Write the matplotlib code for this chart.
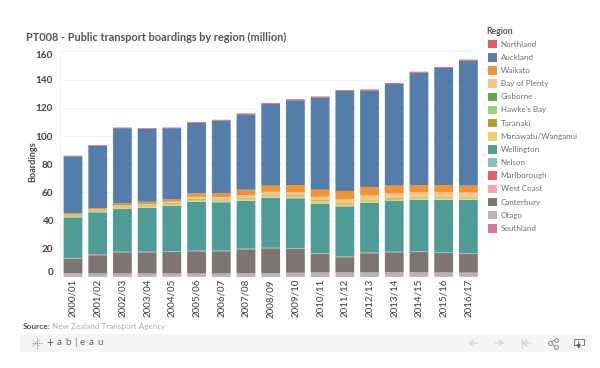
import numpy as np
import matplotlib
matplotlib.use("Agg")
import matplotlib.pyplot as plt
from matplotlib.patches import Rectangle

plt.rcParams["font.family"] = ["Lato", "DejaVu Sans"]

years = ["2000/01", "2001/02", "2002/03", "2003/04", "2004/05", "2005/06", "2006/07", "2007/08", "2008/09",
         "2009/10", "2010/11", "2011/12", "2012/13", "2013/14", "2014/15", "2015/16", "2016/17"]

# legend order, top of the stack first
regions = ["Northland", "Auckland", "Waikato", "Bay of Plenty", "Gisborne", "Hawke's Bay", "Taranaki",
           "Manawatu/Wanganui", "Wellington", "Nelson", "Marlborough", "West Coast", "Canterbury", "Otago", "Southland"]
colors = ["#e15759", "#4e79a7", "#f28e2b", "#ffbe7d", "#59a14f", "#8cd17d", "#b6992d",
          "#f1ce63", "#499894", "#86bcb6", "#e15759", "#ff9d9a", "#79706e", "#bab0ac", "#d37295"]

northland = [.4, .5, .5, .5, .5, .5, .5, .6, .6, .6, .6, .6, .6, .6, .6, .6, .6]
auckland = [40.4, 44.1, 53.3, 51.6, 50.4, 50.1, 51.6, 53.5, 58.1, 60.2, 65.5, 70.9, 68.6, 72.1, 79.8, 83.2, 88.8]
waikato = [1, 1, 1.5, 1.6, 1.7, 2.6, 2.8, 4, 4.4, 4.9, 5, 5.7, 5.8, 5.5, 5.1, 4.9, 4.8]
bay_of_plenty = [.3, .4, .7, .8, .8, 1.3, 1.5, 1.6, 1.9, 2.1, 2.3, 2.6, 3, 3, 3, 3.2, 3]
gisborne = [.1, .1, .1, .1, .1, .1, .1, .1, .1, .1, .1, .1, .1, .1, .1, .1, .1]
hawkes_bay = [.5, .5, .6, .7, .7, .8, .8, .8, .8, .8, .8, .8, .8, 1, .8, .8, .7]
taranaki = [.2, .2, .2, .2, .2, .2, .2, .3, .3, .3, .3, .3, .3, .3, .3, .3, .3]
manawatu = [.8, .8, .9, .9, 1, 1, 1, 1, 1.1, 1.2, 1.4, 1.4, 1.3, 1, 1.1, 1.1, 1.1]
wellington = [28.8, 30, 30.2, 31.1, 32.4, 34.7, 34.3, 34, 35.4, 35.3, 35.2, 35.6, 35.2, 35.9, 36.6, 37.3, 38]
nelson = [.3, .3, .3, .3, .3, .3, .3, .3, .3, .3, .3, .3, .3, .3, .3, .3, .3]
marlborough = [.15, .15, .15, .15, .15, .15, .15, .15, .15, .15, .15, .15, .15, .15, .15, .15, .15]
west_coast = [.05, .05, .05, .05, .05, .05, .05, .05, .05, .05, .05, .05, .05, .05, .05, .05, .05]
canterbury = [10.3, 12.9, 15, 15, 15.2, 15.7, 15.7, 17, 17.5, 17, 13, 10.8, 13.5, 14.1, 14.4, 13.8, 13.2]
otago = [2.3, 2.1, 2.1, 2.1, 2.1, 2.1, 2.1, 2.2, 2.4, 2.6, 2.9, 2.8, 2.9, 3, 2.9, 2.8, 2.7]
southland = [.4, .4, .4, .4, .4, .4, .4, .4, .4, .4, .4, .4, .4, .4, .4, .4, .4]

series = [northland, auckland, waikato, bay_of_plenty, gisborne, hawkes_bay, taranaki, manawatu,
          wellington, nelson, marlborough, west_coast, canterbury, otago, southland]
yticks = [0, 20, 40, 60, 80, 100, 120, 140, 160]

W, H = 600, 368
fig = plt.figure(figsize=(W / 100, H / 100), dpi=100)

# overlay in pixel coordinates for the title, legend and toolbar
over = fig.add_axes([0, 0, 1, 1])
over.set_xlim(0, W)
over.set_ylim(H, 0)
over.axis("off")

ax = fig.add_axes([60 / W, 1 - 277 / H, 420 / W, 226.3 / H])
ax.set_facecolor("none")

# stack from the bottom up, legend order is top first
x = np.arange(len(years))
bottom = np.zeros(len(years))
for vals, col in zip(series[::-1], colors[::-1]):
    bars = ax.bar(x, vals, bottom=bottom, width=0.76, color=col, linewidth=0, alpha=0.97, zorder=3)
    for b in bars:
        b.set_snap(False)
    bottom += np.array(vals)

ax.set_xlim(-0.526, 16.47)
ax.set_ylim(0, 160.5)
ax.set_yticks(yticks)
ax.set_xticks(x)
ax.set_xticklabels(years, rotation=90, fontsize=7, color="#444444", fontweight="medium")
ax.tick_params(axis="x", length=0, pad=1.5)
ax.tick_params(axis="y", length=0, pad=5, labelsize=7.2, labelcolor="#444444")
for lab in ax.get_yticklabels():
    lab.set_fontweight("bold")
ax.grid(axis="y", color="#f4f4f4", linewidth=0.7, zorder=0)
for s in ax.spines.values():
    s.set_visible(False)
ax.spines["left"].set_visible(True)
ax.spines["left"].set_color("#f0f0f0")
ax.spines["left"].set_linewidth(0.7)

# first and last labels are pushed inside the pane
labels = ax.get_yticklabels()
labels[0].set_va("bottom")
labels[-1].set_va("top")

over.text(33, 162, "Boardings", rotation=90, ha="center", va="center", fontsize=6.6, fontweight="bold", color="#444444")
over.text(26, 37, "PT008 - Public transport boardings by region (million)", ha="left", va="center",
          fontsize=7.9, fontweight="bold", color="#555555")

# legend
over.text(486.5, 31.5, "Region", ha="left", va="center", fontsize=6.2, fontweight="bold", color="#555555")
for i, (name, col) in enumerate(zip(regions, colors)):
    y = 44.2 + 13.15 * i
    over.add_patch(Rectangle((488.3, y - 4.3), 8.6, 8.6, facecolor=col, edgecolor="none", alpha=0.95))
    over.text(500.7, y, name, ha="left", va="center", fontsize=5.8, color="#707070")

# source line
over.text(22.5, 326.8, "Source:", ha="left", va="center", fontsize=6.0, fontweight="bold", color="#555555")
over.text(52.5, 326.8, "New Zealand Transport Agency", ha="left", va="center", fontsize=5.9, color="#b0b0b0")

# toolbar
over.add_patch(Rectangle((20, 334.3), 571.7, 17.4, facecolor="#f5f5f5", edgecolor="none"))
over.plot([36.5, 36.5], [338, 348], color="#808080", lw=0.8, ls=(0, (1, 1)))
over.plot([31.5, 41.5], [343, 343], color="#808080", lw=0.8, ls=(0, (1, 1)))
over.plot([33, 40], [339.5, 346.5], color="#a0a0a0", lw=0.7, ls=(0, (1, 1)))
over.plot([33, 40], [346.5, 339.5], color="#a0a0a0", lw=0.7, ls=(0, (1, 1)))
for px, ch in zip([49.5, 59, 68, 75.5, 82, 91, 100], ["+", "a", "b", "|", "e", "a", "u"]):
    over.text(px, 342.8, ch, ha="center", va="center", fontsize=9 if ch == "+" else 7, color="#666666")

grey = "#d0d0d0"
arrow = dict(arrowstyle="->,head_width=0.22,head_length=0.3", lw=0.8, shrinkA=0, shrinkB=0)
over.annotate("", xy=(468.5, 343), xytext=(478, 343), arrowprops=dict(arrow, color=grey))
over.annotate("", xy=(504, 343), xytext=(495, 343), arrowprops=dict(arrow, color=grey))
over.annotate("", xy=(522, 343), xytext=(532, 343), arrowprops=dict(arrow, color=grey))
over.plot([521.5, 521.5], [338.5, 347.5], color=grey, lw=0.8)

# share icon
over.plot([555.5, 549.5, 555.5], [339.5, 343, 346.5], color="#8a8a8a", lw=0.6)
over.scatter([549.5, 555.5, 555.5], [343, 339.5, 346.5], s=8, facecolor="#f5f5f5", edgecolor="#777777", linewidth=0.6, zorder=3)

# download icon
over.plot([575.5, 573.5, 573.5, 584, 584, 582], [345, 345, 338.5, 338.5, 345, 345], color="#777777", lw=0.7)
over.annotate("", xy=(578.7, 348.5), xytext=(578.7, 341.5),
              arrowprops=dict(arrowstyle="-|>,head_width=0.12,head_length=0.2", lw=0.7, color="#555555", shrinkA=0, shrinkB=0))

fig.savefig("out.png", dpi=100)
